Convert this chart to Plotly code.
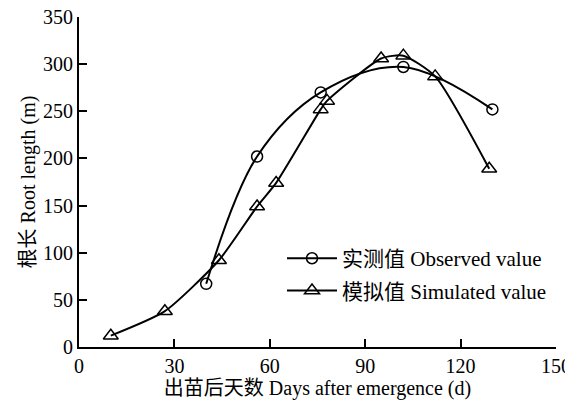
import plotly.graph_objects as go

obs_x = [40, 56, 76, 102, 130]
obs_y = [67, 202, 270, 297, 252]
sim_x = [10, 27, 44, 56, 62, 76, 78, 95, 102, 112, 129]
sim_y = [12, 38, 92, 149, 174, 252, 261, 306, 309, 287, 189]

x_ticks = [0, 30, 60, 90, 120, 150]
y_ticks = [0, 50, 100, 150, 200, 250, 300, 350]

FONT = "Liberation Serif, Times New Roman, Noto Sans CJK SC, serif"

fig = go.Figure()
fig.add_trace(go.Scatter(
    x=obs_x, y=obs_y, mode="lines+markers", name="实测值 Observed value",
    legendgroup="obs",
    line=dict(color="black", width=2, shape="spline", smoothing=1.0),
    marker=dict(symbol="circle-open", size=11, color="black", line=dict(width=1.5)),
))
fig.add_trace(go.Scatter(
    x=sim_x, y=sim_y, mode="lines+markers", name="模拟值 Simulated value",
    legendgroup="sim",
    line=dict(color="black", width=2, shape="spline", smoothing=0.6),
    marker=dict(symbol="triangle-up-open", size=13, color="black", line=dict(width=1.5)),
))

# page body has an 8px margin, so the figure is drawn 8px right/down of the window corner
fig.update_layout(
    width=565, height=392,
    margin=dict(l=71, r=17, t=9, b=53, autoexpand=False),
    paper_bgcolor="white", plot_bgcolor="white",
    font=dict(family=FONT, size=20, color="black"),
    showlegend=True,
    legend=dict(x=0.4256, y=0.330, xanchor="left", yanchor="top",
                bgcolor="rgba(0,0,0,0)", font=dict(size=21, family=FONT),
                tracegroupgap=2, itemwidth=50),
)
fig.update_xaxes(
    range=[0, 150], tickvals=x_ticks, ticktext=[str(v) for v in x_ticks],
    ticks="inside", ticklen=8, tickwidth=2, tickcolor="black", automargin=False,
    ticklabeloverflow="allow",
    showline=True, linecolor="black", linewidth=2, showgrid=False, zeroline=False,
    tickfont=dict(size=20),
    title=dict(text="出苗后天数 Days after emergence (d)", font=dict(size=20), standoff=2),
)
fig.update_yaxes(
    range=[0, 350], tickvals=y_ticks, ticktext=[str(v) for v in y_ticks],
    ticks="inside", ticklen=8, tickwidth=2, tickcolor="black", automargin=False,
    ticklabeloverflow="allow",
    showline=True, linecolor="black", linewidth=2, showgrid=False, zeroline=False,
    tickfont=dict(size=20),
    title=dict(text="根长 Root length (m)", font=dict(size=20), standoff=2),
)

fig.write_html("out.html")
